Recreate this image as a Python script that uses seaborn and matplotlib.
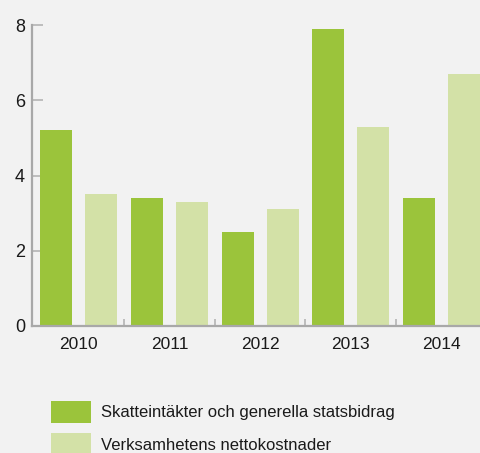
import matplotlib
matplotlib.use("Agg")
import matplotlib.pyplot as plt
import seaborn as sns
import pandas as pd
from matplotlib.ticker import FixedLocator

years = ["2010", "2011", "2012", "2013", "2014"]
series_names = ["Skatteintäkter och generella statsbidrag", "Verksamhetens nettokostnader"]
skatte = [5.2, 3.4, 2.5, 7.9, 3.4]
netto = [3.5, 3.3, 3.1, 5.3, 6.7]
yticks = [0, 2, 4, 6, 8]
colors = ["#9bc43b", "#d3e1a7"]

df = pd.DataFrame({
    "year": years * 2,
    "value": skatte + netto,
    "series": [series_names[0]] * 5 + [series_names[1]] * 5,
})

sns.set_theme(style="white")
plt.rcParams["font.family"] = ["Liberation Sans", "DejaVu Sans"]
bg = "#f2f2f2"
fs = 12
fpx = fs * 100 / 72
hh = (22 / fpx - 0.245) / 0.65
box = fpx * hh
fig = plt.figure(figsize=(4.8, 4.53), dpi=100, facecolor=bg)
ax = fig.add_axes([32/480, 127/453, 453.5/480, 301/453])
ax.set_facecolor(bg)

sns.barplot(data=df, x="year", y="value", hue="series", palette=colors,
            width=0.99, gap=0.287, ax=ax, saturation=1, linewidth=0)

ax.set_xlim(-0.515, 4.485)
ax.set_ylim(0, 8)
ax.set_yticks(yticks)
ax.set_yticklabels([str(v) for v in yticks])
ax.set_xlabel("")
ax.set_ylabel("")
for s in ["top", "right"]:
    ax.spines[s].set_visible(False)
for s in ["left", "bottom"]:
    ax.spines[s].set_color("#a8a8a8")
    ax.spines[s].set_linewidth(1.6)

ax.tick_params(axis="y", direction="in", length=8, width=1.2, color="#b4b4b4",
               labelsize=13, pad=5, labelcolor="#1a1a1a", left=True)
ax.tick_params(axis="x", which="major", length=0, labelsize=12.5, pad=8, labelcolor="#1a1a1a")
ax.xaxis.set_minor_locator(FixedLocator([0.5, 1.5, 2.5, 3.5]))
ax.tick_params(axis="x", which="minor", direction="in", length=5, width=1.2,
               color="#b4b4b4", bottom=True)

sns.move_legend(ax, loc="upper left", bbox_to_anchor=(51/480, 1 - 401/453),
                bbox_transform=fig.transFigure, title=None, frameon=False,
                fontsize=fs, handlelength=40/fpx, handleheight=hh,
                labelspacing=(38 - box)/fpx, handletextpad=10/fpx,
                borderaxespad=0, borderpad=0)
for t in ax.get_legend().get_texts():
    t.set_color("#1a1a1a")

fig.savefig("out.png", dpi=100, facecolor=bg)
